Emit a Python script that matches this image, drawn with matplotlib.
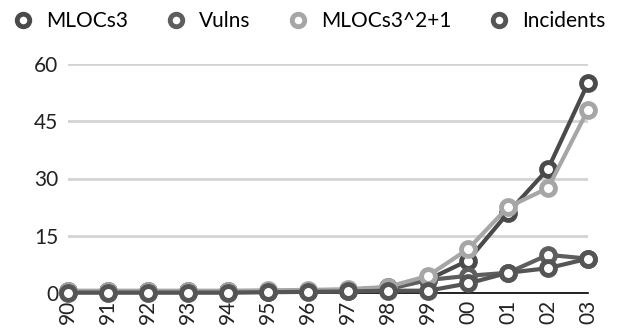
import matplotlib
matplotlib.use("Agg")
import matplotlib.pyplot as plt
from matplotlib.lines import Line2D

years = ["90", "91", "92", "93", "94", "95", "96", "97", "98", "99", "00", "01", "02", "03"]
mlocs3 = [0.4, 0.4, 0.4, 0.4, 0.5, 0.5, 0.6, 0.8, 1.5, 3.5, 8.5, 21, 32.5, 55]
vulns = [0.2, 0.2, 0.2, 0.2, 0.2, 0.3, 0.4, 0.5, 1.0, 3.4, 4.5, 5.3, 10, 9]
mlocs3_sq = [0.6, 0.6, 0.6, 0.6, 0.6, 0.7, 0.8, 1.0, 1.6, 4.5, 11.5, 22.5, 27.5, 48]
incidents = [0.1, 0.1, 0.1, 0.1, 0.1, 0.2, 0.3, 0.4, 0.6, 0.6, 2.5, 5.3, 6.5, 9]

names = ["MLOCs3", "Vulns", "MLOCs3^2+1", "Incidents"]
series = [mlocs3, vulns, mlocs3_sq, incidents]
colors = ["#4a4a4a", "#5e5e5e", "#a6a6a6", "#555555"]

plt.rcParams['font.family'] = ['Lato', 'DejaVu Sans']
fig = plt.figure(figsize=(6.38, 3.33), dpi=100)
ax = fig.add_axes([68/638, 40/333, 520/638, 229/333])

x = list(range(len(years)))
order = [1, 3, 2, 0]
for i in order:
    ax.plot(x, series[i], color=colors[i], lw=3, marker='o', ms=10,
            mfc='white', mec=colors[i], mew=3.5, clip_on=False, zorder=3 + i)

ax.set_xlim(0, len(years) - 1)
ax.set_ylim(0, 60)
ax.set_yticks([0, 15, 30, 45, 60])
ax.set_xticks(x)
ax.set_xticklabels(years, rotation=90)
ax.tick_params(axis='both', length=0, labelsize=15, colors='#222222', pad=7)
ax.tick_params(axis='x', pad=5)
ax.grid(axis='y', color='#d4d4d4', lw=2)
ax.set_axisbelow(True)
for s in ['top', 'right', 'left']:
    ax.spines[s].set_visible(False)
ax.spines['bottom'].set_color('black')
ax.spines['bottom'].set_linewidth(1.2)

handles = [Line2D([], [], ls='none', marker='o', ms=9, mfc='white', mec=c, mew=3.5)
           for c in colors]
fig.legend(handles, names, loc='upper left', bbox_to_anchor=(-0.005, 1.01), ncol=4,
           frameon=False, fontsize=15, handletextpad=0.55, columnspacing=1.75,
           handlelength=1.1, borderaxespad=0.3)

fig.savefig("out.png", dpi=100)
